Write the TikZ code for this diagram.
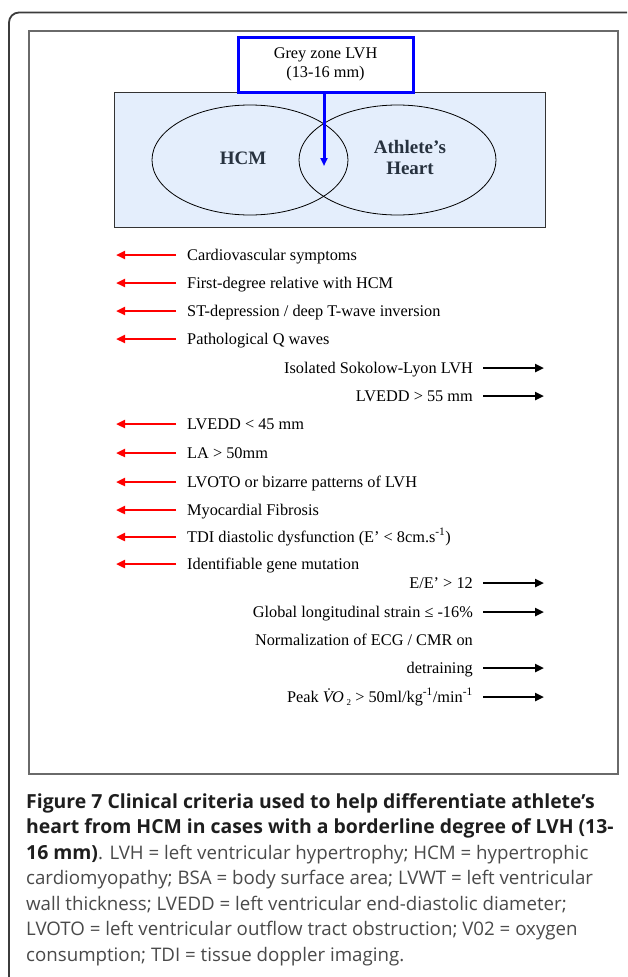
\documentclass[tikz,border=0pt]{standalone}
\usepackage{fontspec}
\setmainfont{Liberation Serif}
\newfontfamily\capfont{Open Sans}
\usetikzlibrary{arrows.meta,shapes.geometric}
\definecolor{vennfill}{HTML}{E4EEFC}
\definecolor{venntext}{HTML}{27323F}
\definecolor{capgray}{HTML}{4A4A4A}
\definecolor{capdark}{HTML}{1E1E1E}
\definecolor{framegray}{HTML}{3C3C3C}
\definecolor{innergray}{HTML}{6A6A6A}
\begin{document}
\begin{tikzpicture}[x=1pt,y=-1pt,
  crit/.style={font=\fontsize{16.3}{19}\selectfont, inner sep=0pt},
  critL/.style={crit, anchor=base west},
  critR/.style={crit, anchor=base east},
  redarr/.style={draw=red, line width=2.7pt, -{Triangle[length=9pt,width=8pt]}},
  blkarr/.style={draw=black, line width=2.7pt, -{Triangle[length=9pt,width=8pt]}},
  bluearr/.style={draw=blue, line width=3pt, -{Triangle[length=8pt,width=7pt]}},
  vennE/.style={ellipse, draw=black, line width=0.8pt, minimum width=196pt, minimum height=110pt, inner sep=0pt},
  vennT/.style={font=\fontsize{19}{21}\selectfont\bfseries, text=venntext, align=center, inner sep=0pt},
  capline/.style={anchor=base west, inner sep=0pt, font=\capfont\fontsize{18.7}{22}\selectfont, text=capgray},
  capbold/.style={capline, font=\capfont\bfseries\fontsize{19.4}{22}\selectfont, text=capdark},
]
\useasboundingbox (0,0) rectangle (627,977);
\clip (0,0) rectangle (627,977);
\fill[white] (0,0) rectangle (627,977);

% frames
\draw[framegray, line width=1.8pt, rounded corners=10pt] (9,12.5) rectangle (637,1000);
\draw[innergray, line width=1.3pt] (29,31) rectangle (618,774);

% venn panel
\node[draw=black!80, line width=1pt, fill=vennfill, minimum width=431pt, minimum height=135pt, inner sep=0pt] (panel) at (329.5,159.5) {};
\node[vennE] (hcmE) at (250,160) {};
\node[vennE, minimum width=197pt] (athE) at (397.5,160) {};
\node[vennT] (hcm) at (243,158) {HCM};
\node[vennT] (ath) at (410,157.5) {Athlete’s\\Heart};

% grey zone box
\node[draw=blue, line width=3pt, fill=white, minimum width=175pt, minimum height=55pt, inner sep=0pt, align=center, font=\fontsize{16.3}{19}\selectfont] (gz) at (325.5,64.5) {Grey zone LVH\\(13-16 mm)};
\coordinate (gzTip) at (324,166);
\draw[bluearr] (gz.south -| gzTip) -- (gzTip);

% left criteria (HCM)
\foreach \n/\y/\t in {
  c1/255/{Cardiovascular symptoms},
  c2/283/{First-degree relative with HCM},
  c3/311/{ST-depression / deep T-wave inversion},
  c4/339/{Pathological Q waves},
  c7/424/{LVEDD < 45 mm},
  c8/453/{LA > 50mm},
  c9/482/{LVOTO or bizarre patterns of LVH},
  c10/510/{Myocardial Fibrosis},
  c11/537/{TDI diastolic dysfunction (E’ < 8cm.s\textsuperscript{-1})},
  c12/564/{Identifiable gene mutation}}
{
  \node[critL] (\n) at (187,\y+5) {\t};
  \coordinate (\n s) at (176,\y);
  \coordinate (\n e) at (116,\y);
  \draw[redarr] (\n s) -- (\n e);
}

% right criteria (athlete's heart)
\foreach \n/\y/\t in {
  c5/368/{Isolated Sokolow-Lyon LVH},
  c6/396/{LVEDD > 55 mm},
  c13/583/{E/E’ > 12},
  c14/612/{Global longitudinal strain ≤ -16\%},
  c15/668/{detraining},
  c16/697/{Peak \textit{\.{V}O}\,\raisebox{-0.45ex}{\small 2} > 50ml/kg\textsuperscript{-1}/min\textsuperscript{-1}}}
{
  \node[critR] (\n) at (473,\y+5) {\t};
  \coordinate (\n s) at (483,\y);
  \coordinate (\n e) at (544,\y);
  \draw[blkarr] (\n s) -- (\n e);
}
\node[critR] (c15a) at (473,645) {Normalization of ECG / CMR on};

% caption
\node[capbold] (cap1) at (26,808) {Figure 7 Clinical criteria used to help differentiate athlete’s};
\node[capbold] (cap2) at (26,833.5) {heart from HCM in cases with a borderline degree of LVH (13-};
\node[capline] (cap3) at (26,859) {{\bfseries\fontsize{19.4}{22}\selectfont\color{capdark}16 mm)}. LVH = left ventricular hypertrophy; HCM = hypertrophic};
\node[capline] (cap4) at (26,884.5) {cardiomyopathy; BSA = body surface area; LVWT = left ventricular};
\node[capline] (cap5) at (26,910) {wall thickness; LVEDD = left ventricular end-diastolic diameter;};
\node[capline] (cap6) at (26,935.5) {LVOTO = left ventricular outflow tract obstruction; V02 = oxygen};
\node[capline] (cap7) at (26,961) {consumption; TDI = tissue doppler imaging.};
\end{tikzpicture}
\end{document}
